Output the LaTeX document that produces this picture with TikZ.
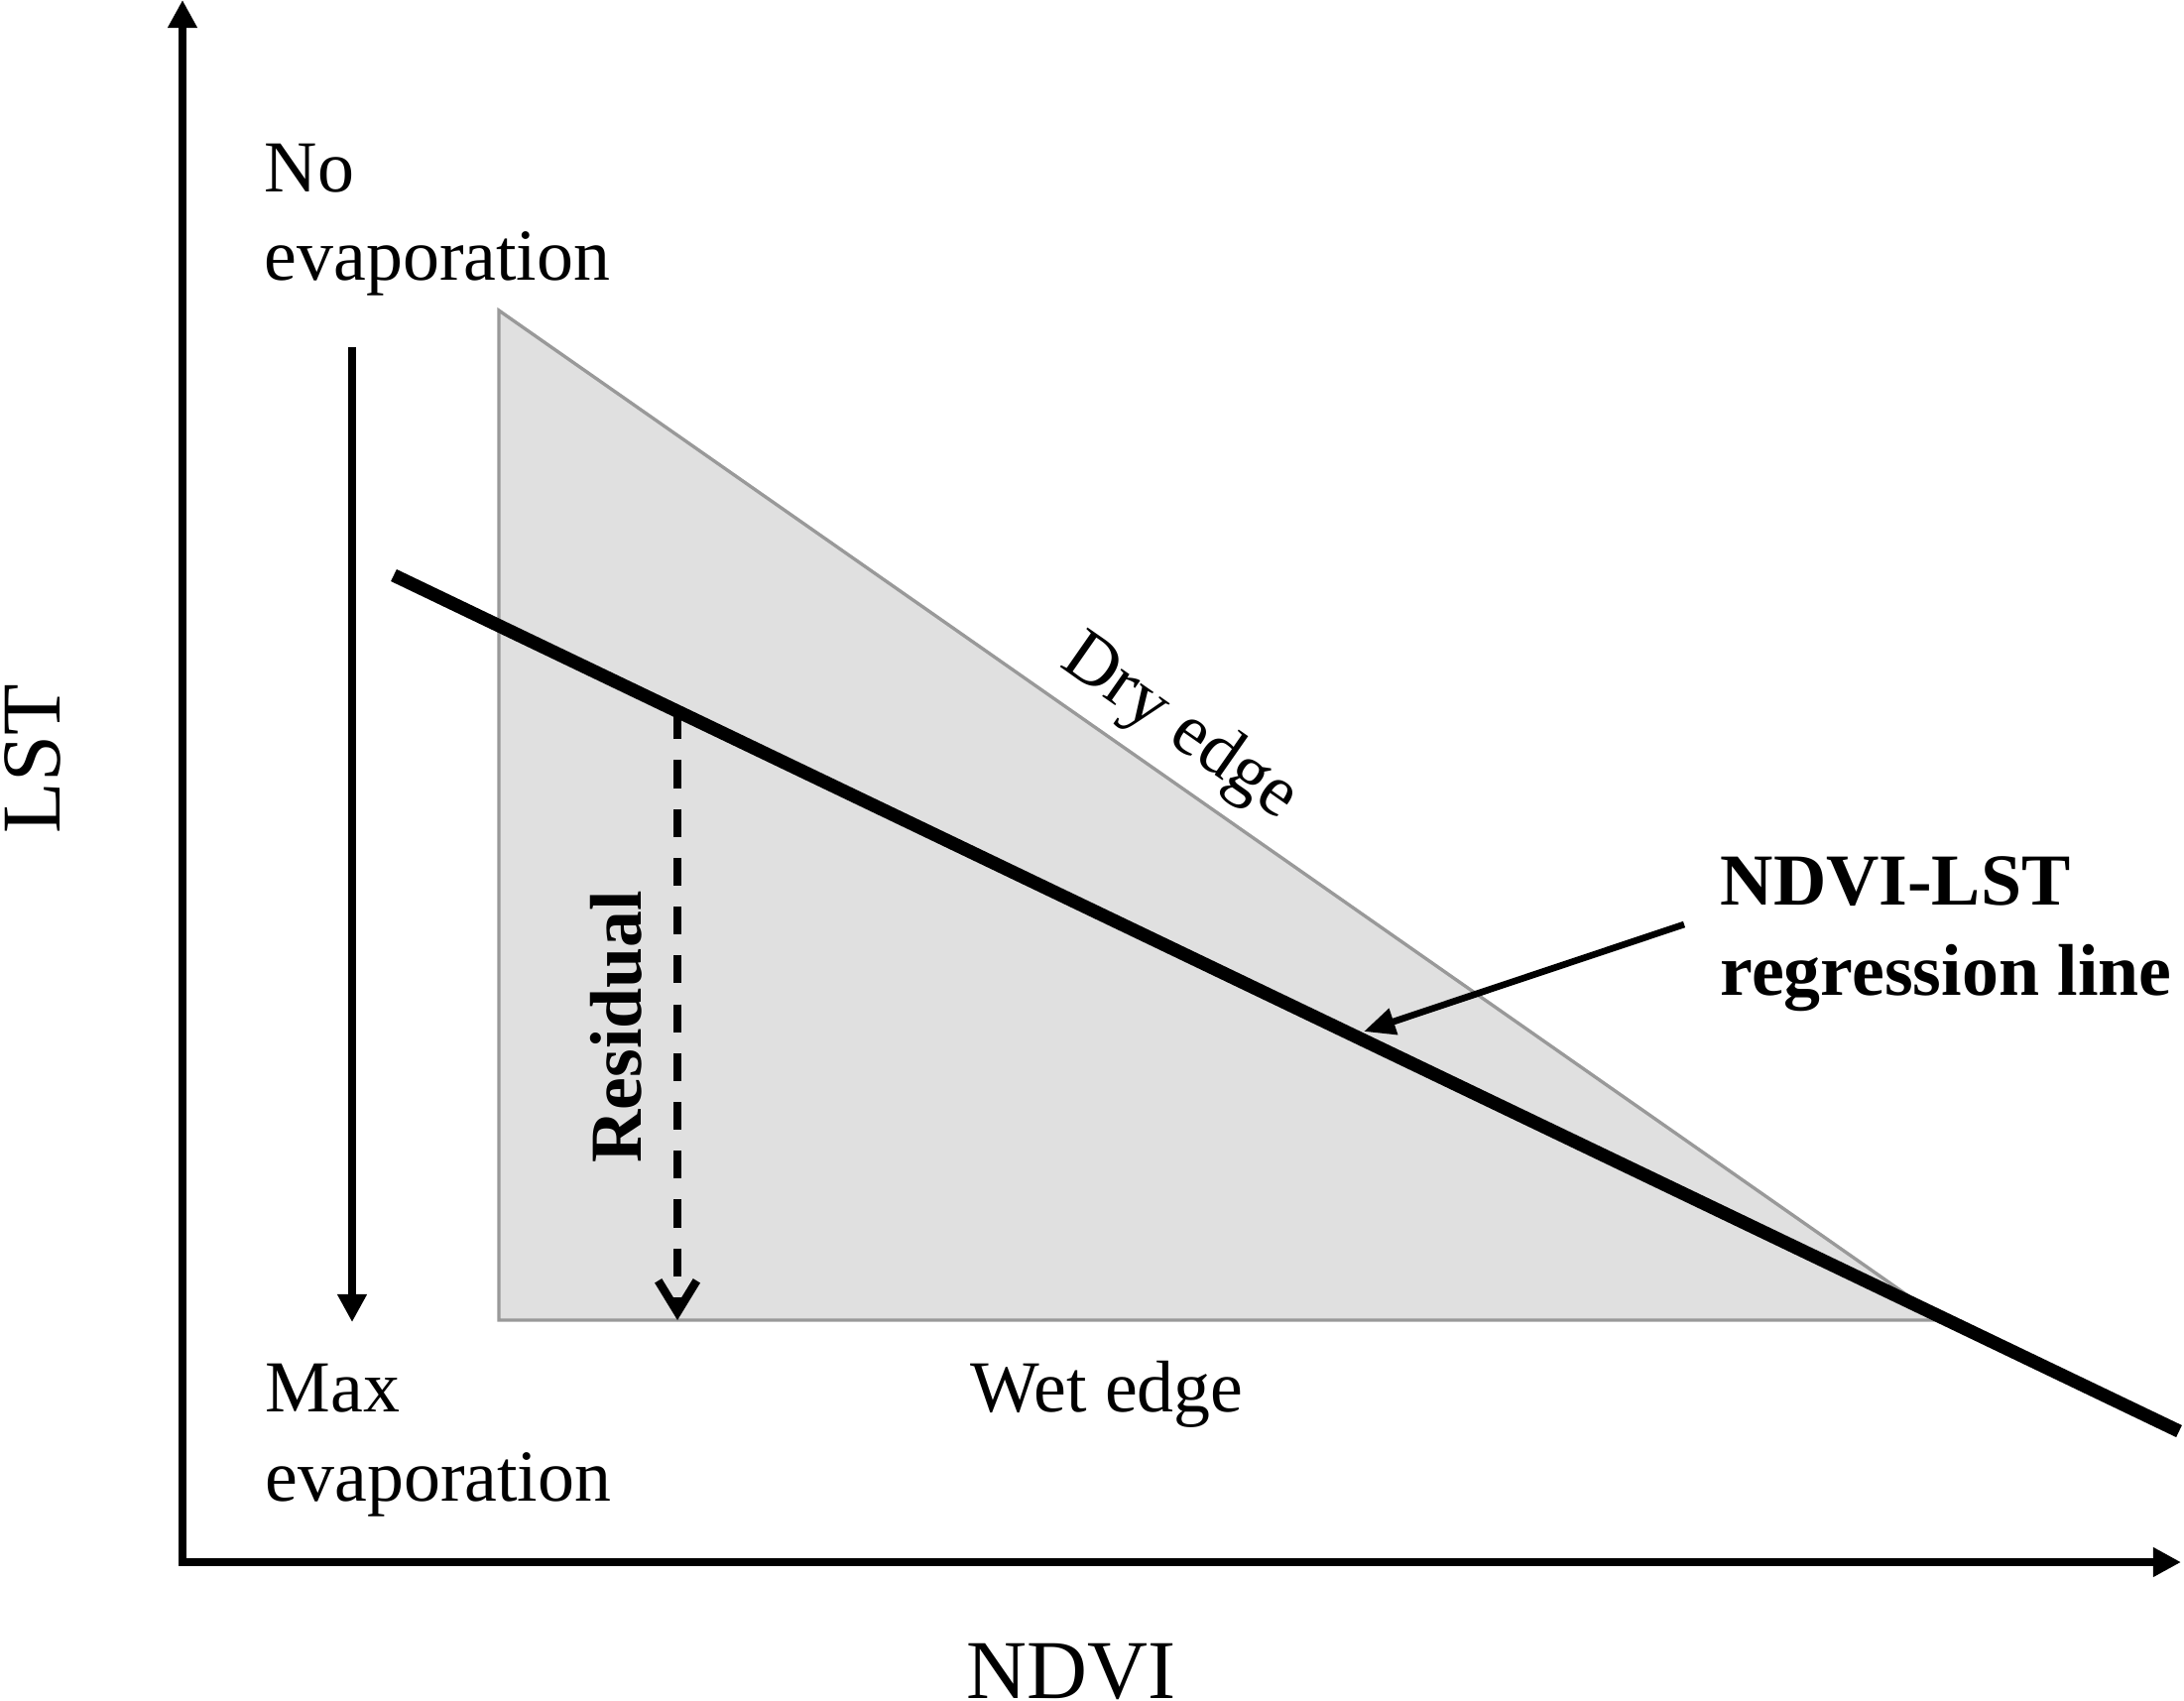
\documentclass[tikz,border=0pt]{standalone}
\usepackage{fontspec}
\setmainfont{Liberation Serif}
\usetikzlibrary{arrows.meta}
\usetikzlibrary{calc}
\definecolor{edgegray}{rgb}{0.6, 0.6, 0.6}
\definecolor{fillgray}{rgb}{0.878, 0.878, 0.878}

\begin{document}
\begin{tikzpicture}[x=0.01cm, y=-0.01cm,
		txt/.style={inner sep=0pt, font=\fontsize{21}{25}\selectfont},
		boldtxt/.style={inner sep=0pt, font=\fontsize{21}{25}\selectfont\bfseries},
		axtxt/.style={inner sep=0pt, font=\fontsize{24}{28}\selectfont},
		headtip/.style={-{Triangle[length=8pt, width=8pt]}}]
	\useasboundingbox (0,0) rectangle (2202,1714);

	\def\axthick{2.3pt}
	\def\regthick{3.8pt}
	\def\edgethick{0.95pt}

	\coordinate (O) at (184,1575);
	\coordinate (ytop) at (184,0);
	\coordinate (xend) at (2199,1575);
	\draw[line width=\axthick, {Triangle[length=8pt, width=8pt]}-{Triangle[length=8pt, width=8pt]}] (ytop) -- (O) -- (xend);

	\coordinate (dryT) at (503,313);
	\coordinate (wetL) at (503,1331);
	\coordinate (wetR) at (1959,1331);
	\filldraw[fill=fillgray, draw=edgegray, line width=\edgethick] (dryT) -- (wetL) -- (wetR) -- cycle;

	\coordinate (evT) at (355,350);
	\coordinate (evB) at (355,1333);
	\draw[line width=2.5pt, headtip] (evT) -- (evB);

	\coordinate (regA) at (397,580);
	\coordinate (regB) at (2197,1443);
	\draw[line width=\regthick] (regA) -- (regB);

	\coordinate (resT) at ($(regA)!0.1589!(regB)$);
	\draw[line width=2.4pt, dash pattern=on 8pt off 6pt, -{Straight Barb[length=9pt, width=11pt]}] (resT) -- (resT |- wetL);
	\node[boldtxt, rotate=90, anchor=south] (resid) at (648,1035) {Residual};

	\node[txt, rotate=-34.9] (dry) at (1189,735) {Dry edge};
	\node[txt, anchor=base] (wet) at (1116,1423) {Wet edge};

	\node[txt, anchor=base west] (noevA) at (266,193) {No};
	\node[txt, anchor=base west] (noevB) at (266,282) {evaporation};
	\node[txt, anchor=base west] (maxA) at (267,1423) {Max};
	\node[txt, anchor=base west] (maxB) at (267,1513) {evaporation};

	\node[boldtxt, anchor=base west] (regtxtA) at (1734,912) {NDVI-LST};
	\node[boldtxt, anchor=base west] (regtxtB) at (1734,1003) {regression line};
	\coordinate (pointer) at (1698,932);
	\coordinate (onreg) at (1375,1040);
	\draw[line width=1.9pt, -{Triangle[length=9pt, width=7.5pt]}] (pointer) -- (onreg);

	\node[axtxt, rotate=90, anchor=south] (lst) at (62,765) {LST};
	\node[axtxt, anchor=base] (ndvi) at (1080,1712) {NDVI};
\end{tikzpicture}
\end{document}
